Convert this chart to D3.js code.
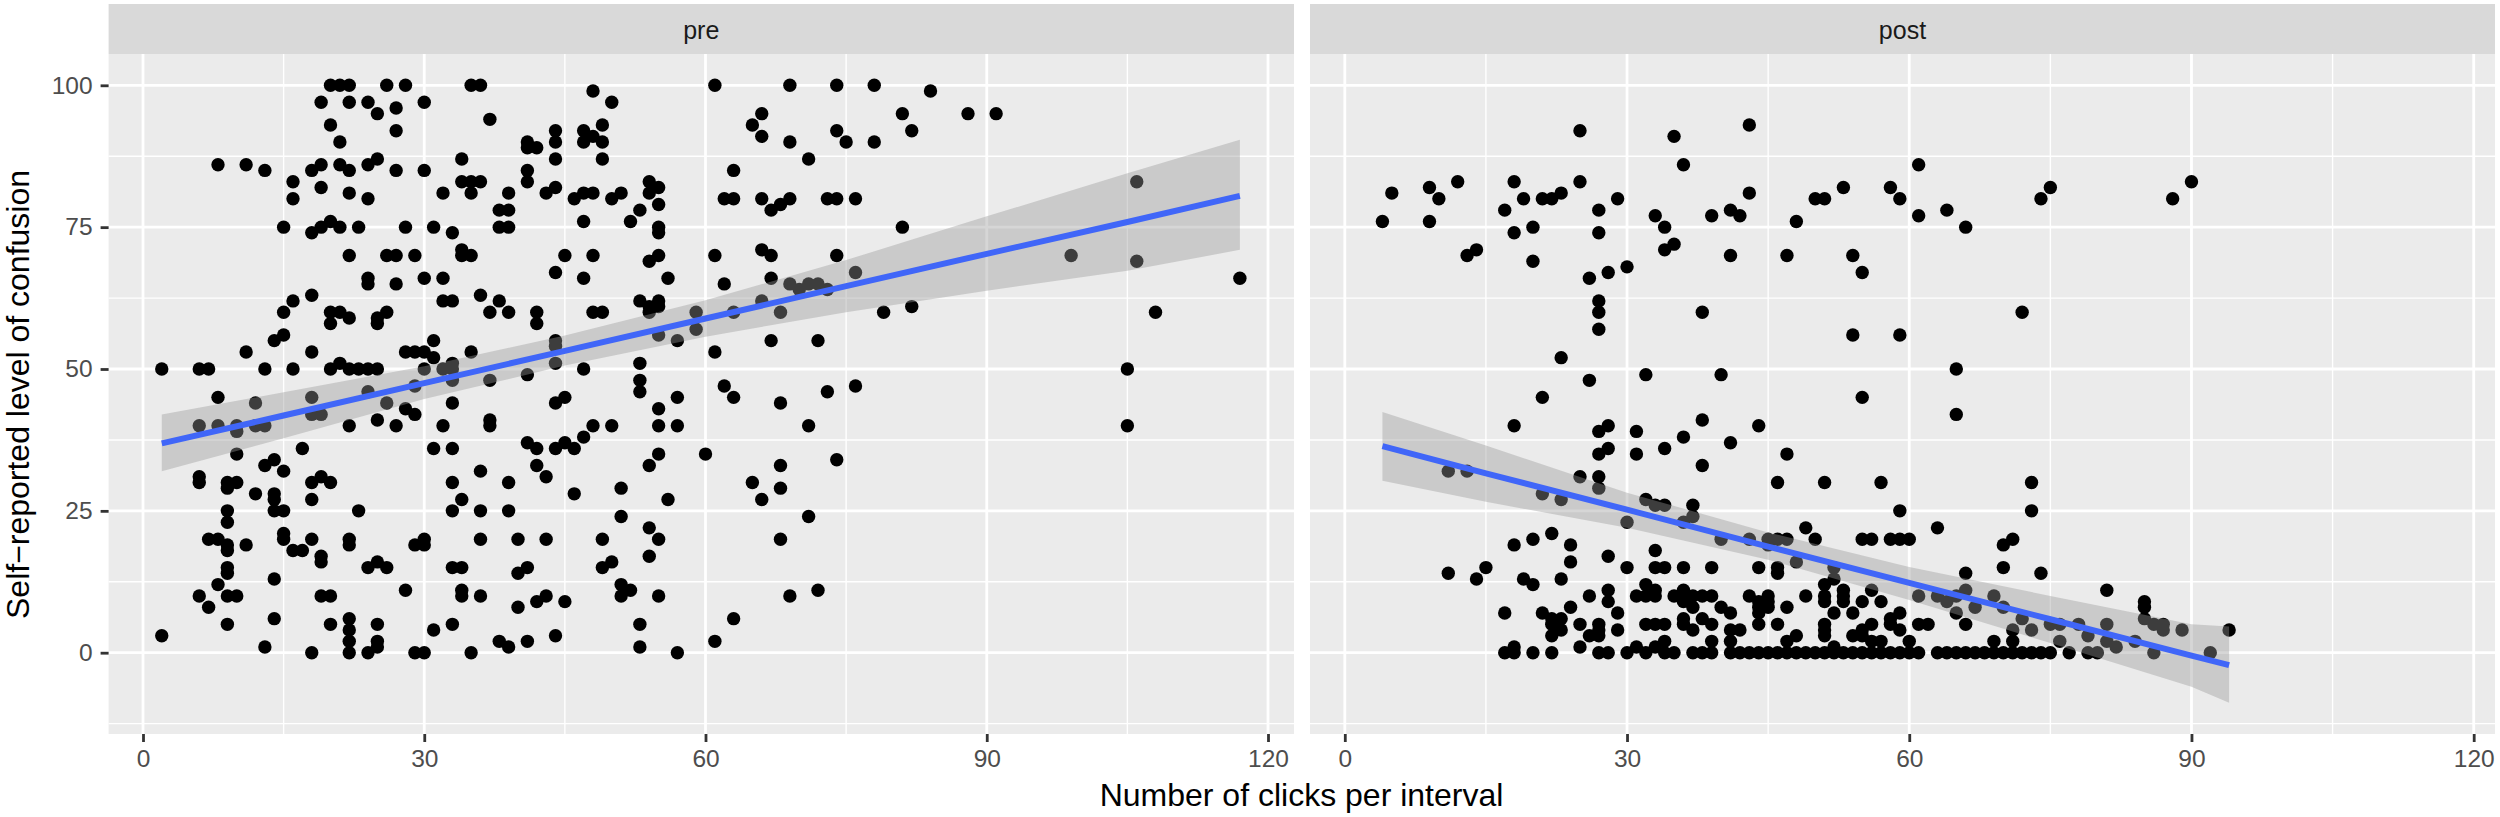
<!DOCTYPE html>
<html>
<head>
<meta charset="utf-8">
<script src="https://d3js.org/d3.v7.min.js"></script>
<style>
  body { margin: 0; background: #fff; }
  text { font-family: "Liberation Sans", sans-serif; }
</style>
</head>
<body>
<script>
// confusion level -> click counts, one row per y value
const prePoints = [
  [100,[20,21,22,26,28,35,36,61,69,74,78]],[99,[48,84]],[97,[19,22,24,30,50]],[96,[27]],[95,[25,66,81,88,91]],
  [94,[37]],[93,[20,49,65]],[92,[27,44,47,74,82]],[91,[48,66]],[90,[21,41,44,47,49,69,75,78]],[89,[41,42]],
  [87,[25,34,44,49,71]],[86,[8,11,19,21,24]],[85,[13,18,22,27,30,41,63]],[83,[16,34,35,36,41,54,106]],[82,[19,44,55]],
  [81,[22,32,35,39,43,47,48,51,54]],[80,[16,24,46,50,62,63,66,69,73,74,76]],[79,[55,68]],[78,[38,39,53,67]],
  [76,[20,47,52]],[75,[15,19,21,23,28,31,38,39,55,81]],[74,[18,33,55]],[71,[34,66]],
  [70,[22,26,27,29,34,35,45,48,55,61,67,74,99]],[69,[54,106]],[67,[44,76]],[66,[24,30,32,47,56,67,117]],
  [65,[24,27,62,69,71,72]],[64,[70,73]],[63,[18,36]],[62,[16,32,33,38,53,55,66]],[61,[54,55,82]],
  [60,[15,20,21,26,37,39,42,48,49,54,59,63,68,79,108]],[59,[22,25]],[58,[20,25,42]],[57,[59]],[56,[15,55]],
  [55,[14,31,44,57,67,72]],[54,[44]],[53,[11,18,28,29,30,35,61]],[52,[31]],[51,[21,33,44,53]],
  [50,[2,6,7,13,16,20,22,23,24,25,30,32,33,47,105]],[49,[41]],[48,[33,37,53]],[47,[29,62,76]],[46,[24,53,73]],
  [45,[8,18,45,57,63]],[44,[12,26,33,44,68]],[43,[28,55]],[42,[18,19,29]],[41,[25,37]],
  [40,[6,8,10,12,13,22,27,32,37,48,50,55,57,71,105]],[39,[10]],[38,[47]],[37,[41,45]],[36,[17,31,33,42,44,46]],
  [35,[10,55,60]],[34,[14,74]],[33,[13,42,54,68]],[32,[15,36]],[31,[6,19,43]],[30,[6,9,10,18,20,33,39,65]],
  [29,[9,51,68]],[28,[12,14,46]],[27,[14,18,34,56,66]],[25,[9,14,15,23,33,36,39]],[24,[51,71]],[23,[9]],
  [22,[54]],[21,[15]],[20,[7,8,15,18,22,30,36,40,43,49,55,68]],[19,[9,11,22,29,30]],[18,[9,16,17]],
  [17,[19,54]],[16,[19,25,50]],[15,[9,24,26,33,34,41,49]],[14,[9,40]],[13,[14]],[12,[8,51]],[11,[28,34,52,72]],
  [10,[6,9,10,19,20,34,36,43,51,55,69]],[9,[42,45]],[8,[7,40]],[6,[14,22,63]],[5,[9,20,25,33,53]],[4,[22,31]],
  [3,[2,44]],[2,[22,25,38,41,61]],[1,[13,25,39,53]],[0,[18,22,24,29,30,35,57]]
];
const postPoints = [
  [93,[43]],[92,[25]],[91,[35]],[86,[36,61]],[83,[12,18,25,90]],[82,[9,53,58,75]],[81,[5,23,43]],[80,[10,19,21,22,29,50,51,59,74,88]],
  [78,[17,27,41,64]],[77,[33,39,42,61]],[76,[4,9,48]],[75,[20,34,66]],[74,[18,27]],[72,[35]],[71,[14,34]],
  [70,[13,41,47,54]],[69,[20]],[68,[30]],[67,[28,55]],[66,[26]],[62,[27]],[60,[27,38,72]],[57,[27]],[56,[54,59]],
  [52,[23]],[50,[65]],[49,[32,40]],[48,[26]],[45,[21,55]],[42,[65]],[41,[38]],[40,[18,28,44]],[39,[27,31]],
  [38,[36]],[37,[41]],[36,[28,34]],[35,[27,31,47]],[33,[38]],[32,[11,13]],[31,[25,27]],[30,[46,51,57,73]],[29,[27]],
  [28,[21]],[27,[23,32]],[26,[33,34,37]],[25,[59,73]],[24,[37]],[23,[30,36]],[22,[49,63]],[21,[22]],
  [20,[20,40,43,45,46,47,50,55,56,58,59,60,71]],[19,[18,24,45,70]],[18,[33]],[17,[28]],[16,[24,48]],
  [15,[15,30,33,34,36,39,44,46,52,70]],[14,[11,46,66,74]],[13,[14,19,23,52]],[12,[20,32,51]],
  [11,[28,33,36,53,56,66,81]],[10,[26,31,32,33,35,36,37,38,39,43,45,49,51,53,61,63,65,69]],
  [9,[28,36,44,45,51,53,55,57,64,85]],[8,[24,37,40,44,45,47,67,70,85]],[7,[17,21,29,41,44,52,54,59,65]],
  [6,[22,23,36,38,58,72,85]],[5,[22,25,27,32,33,34,36,39,44,46,51,56,58,61,62,66,75,76,78,81,86,87]],
  [4,[23,27,29,37,41,42,51,55,59,71,73,87,89,94]],[3,[22,26,27,48,51,54,55,79]],[2,[34,39,41,47,56,57,60,69,71,76,81,84]],
  [1,[18,25,31,33,52,82]],
  [0,[17,18,20,22,27,28,30,32,34,35,37,38,39,41,42,43,44,45,46,47,48,49,50,51,52,53,54,55,56,57,58,59,60,61,63,64,65,66,67,68,69,70,71,72,73,74,75,77,79,80,86,92]]
];

// fitted line and its band, read at a few x positions
const preFitX = [2,15,30,45,60,75,90,105,117];
const preFit = [36.9,41.8,47.5,53.2,58.9,64.6,70.3,75.9,80.5];
const preUpper = [42,45.9,50.5,55.9,62.1,69.2,76.9,84.5,90.4];
const preLower = [32,37.8,44.7,50.6,55.7,60,63.8,67.3,71];
const postFitX = [4,15,30,45,60,75,90,94];
const postFit = [36.4,31.6,25.2,18.7,12.3,5.9,-0.5,-2.2];
const postUpper = [42.4,36.5,28.2,21.2,15.1,10,5,4.6];
const postLower = [30.3,26.6,22,16.4,9.3,1.7,-6,-8.8];

const xTicks = [0,30,60,90,120];
const xMinor = [15,45,75,105];
const yTicks = [0,25,50,75,100];
const yMinor = [-12.5,12.5,37.5,62.5,87.5];
const facets = ["pre","post"];

const width = 2500, height = 817;
const svg = d3.select("body").append("svg").attr("width", width).attr("height", height);

const stripTop = 4, panelTop = 54, panelBottom = 734;
const y = d3.scaleLinear().domain([0,100]).range([652.7,85.3]);

function drawPanel(name, left, right, xRange, points, fitX, fit, upper, lower, showY){
  let x = d3.scaleLinear().domain([0,120]).range(xRange);
  let g = svg.append("g").attr("class", name);

  g.append("rect").attr("x", left).attr("y", stripTop).attr("width", right-left)
    .attr("height", panelTop-stripTop).attr("fill", "#D9D9D9");
  g.append("text").attr("x", (left+right)/2).attr("y", 38.5).attr("text-anchor", "middle")
    .attr("font-size", 25).attr("fill", "#1A1A1A").text(name);
  g.append("rect").attr("x", left).attr("y", panelTop).attr("width", right-left)
    .attr("height", panelBottom-panelTop).attr("fill", "#EBEBEB");

  // grid
  g.selectAll(".minorY").data(yMinor).join("line").attr("x1", left).attr("x2", right)
    .attr("y1", d => y(d)).attr("y2", d => y(d)).attr("stroke", "#fff").attr("stroke-width", 1.4);
  g.selectAll(".minorX").data(xMinor).join("line").attr("y1", panelTop).attr("y2", panelBottom)
    .attr("x1", d => x(d)).attr("x2", d => x(d)).attr("stroke", "#fff").attr("stroke-width", 1.4);
  g.selectAll(".majorY").data(yTicks).join("line").attr("x1", left).attr("x2", right)
    .attr("y1", d => y(d)).attr("y2", d => y(d)).attr("stroke", "#fff").attr("stroke-width", 2.8);
  g.selectAll(".majorX").data(xTicks).join("line").attr("y1", panelTop).attr("y2", panelBottom)
    .attr("x1", d => x(d)).attr("x2", d => x(d)).attr("stroke", "#fff").attr("stroke-width", 2.8);

  // points
  let flat = points.flatMap(r => r[1].map(v => [v, r[0]]));
  g.append("g").selectAll("circle").data(flat).join("circle")
    .attr("cx", d => x(d[0])).attr("cy", d => y(d[1])).attr("r", 6.7).attr("fill", "#000");

  // band + line
  let band = fitX.map((v,i) => ({x:v, lo:lower[i], hi:upper[i], m:fit[i]}));
  g.append("path").datum(band).attr("fill", "#999999").attr("fill-opacity", 0.4)
    .attr("d", d3.area().x(d => x(d.x)).y0(d => y(d.lo)).y1(d => y(d.hi)));
  g.append("path").datum(band).attr("fill", "none").attr("stroke", "#4066F8").attr("stroke-width", 6)
    .attr("d", d3.line().x(d => x(d.x)).y(d => y(d.m)));

  // axes
  let ax = g.append("g").attr("transform", `translate(0,${panelBottom})`)
    .call(d3.axisBottom(x).tickValues(xTicks).tickSize(8).tickPadding(8));
  ax.select(".domain").remove();
  ax.selectAll("line").attr("stroke", "#333").attr("stroke-width", 2.8);
  ax.selectAll("text").attr("fill", "#4D4D4D").attr("font-size", 24.5).attr("font-family", "Liberation Sans");

  if(showY){
    let ay = g.append("g").attr("transform", `translate(${left},0)`)
      .call(d3.axisLeft(y).tickValues(yTicks).tickSize(8).tickPadding(8));
    ay.select(".domain").remove();
    ay.selectAll("line").attr("stroke", "#333").attr("stroke-width", 2.8);
    ay.selectAll("text").attr("fill", "#4D4D4D").attr("font-size", 24.5).attr("font-family", "Liberation Sans");
  }
}

drawPanel(facets[0], 108.6, 1294, [143,1268], prePoints, preFitX, preFit, preUpper, preLower, true);
drawPanel(facets[1], 1310, 2495, [1344.8,2473.7], postPoints, postFitX, postFit, postUpper, postLower, false);

svg.append("text").attr("x", 1301.5).attr("y", 806).attr("text-anchor", "middle")
  .attr("font-size", 32).attr("fill", "#000").text("Number of clicks per interval");
svg.append("text").attr("transform", "translate(29,394.5) rotate(-90)").attr("text-anchor", "middle")
  .attr("font-size", 31).attr("textLength", 449).attr("lengthAdjust", "spacingAndGlyphs")
  .attr("fill", "#000").text("Self\u2212reported level of confusion");
</script>
</body>
</html>
